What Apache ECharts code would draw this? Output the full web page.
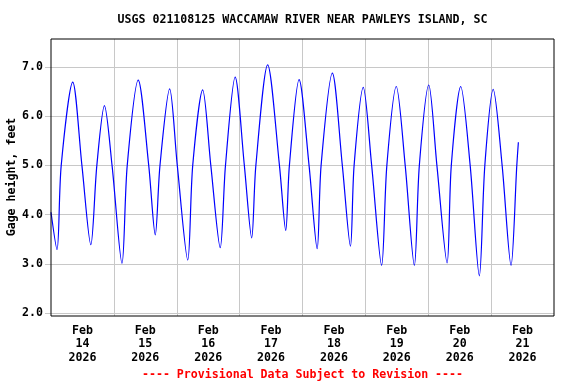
<!DOCTYPE html>
<html><head><meta charset="utf-8">
<script src="https://cdn.jsdelivr.net/npm/echarts@6/dist/echarts.min.js"></script>
<style>html,body{margin:0;padding:0;background:#fff}#c{width:576px;height:384px}</style>
</head><body><div id="c"></div>
<script>
// hours since Feb 14 2026 00:00
const hours = [0.0, 2.3, 3.9, 8.3, 11.8, 15.2, 17.5, 20.4, 23.3, 27.1, 29.1, 33.3, 37.3, 39.8, 41.6, 45.3,
  48.2, 52.2, 54.1, 57.9, 61.0, 64.6, 66.6, 70.3, 73.8, 76.6, 78.2, 82.7, 87.2, 89.6, 91.0, 94.7,
  98.5, 101.6, 103.1, 107.4, 111.2, 114.3, 115.7, 119.2, 122.4, 126.2, 128.2, 131.8, 135.2, 138.7,
  140.6, 144.2, 147.3, 151.2, 152.8, 156.4, 160.0, 163.5, 165.6, 168.8, 172.2, 175.6, 177.8, 178.4];
const gageHeight = [4.05, 3.29, 5.0, 6.69, 5.0, 3.39, 5.0, 6.21, 5.0, 3.01, 5.0, 6.73, 5.0, 3.59, 5.0, 6.55,
  5.0, 3.08, 5.0, 6.53, 5.0, 3.33, 5.0, 6.79, 5.0, 3.53, 5.0, 7.04, 5.0, 3.68, 5.0, 6.74,
  5.0, 3.31, 5.0, 6.87, 5.0, 3.36, 5.0, 6.58, 5.0, 2.97, 5.0, 6.60, 5.0, 2.97,
  5.0, 6.63, 5.0, 3.02, 5.0, 6.60, 5.0, 2.76, 5.0, 6.54, 5.0, 2.97, 5.0, 5.47];
const yTicks = [2, 3, 4, 5, 6, 7];
const dayBoundaryHours = [24, 48, 72, 96, 120, 144, 168];
const labelHours = [12, 36, 60, 84, 108, 132, 156, 180];
const dayLabels = ['Feb\n14\n2026', 'Feb\n15\n2026', 'Feb\n16\n2026', 'Feb\n17\n2026',
  'Feb\n18\n2026', 'Feb\n19\n2026', 'Feb\n20\n2026', 'Feb\n21\n2026'];
const titleText = 'USGS 021108125 WACCAMAW RIVER NEAR PAWLEYS ISLAND, SC';
const yAxisTitle = 'Gage height, feet';
const footerText = '---- Provisional Data Subject to Revision ----';

const FONT = '"DejaVu Sans Mono", "Liberation Mono", monospace';
const chart = echarts.init(document.getElementById('c'), null, {renderer: 'canvas'});
chart.setOption({
  animation: false,
  backgroundColor: '#fff',
  graphic: [
    {type: 'text', x: 302.5, y: 20, style: {text: titleText, fontFamily: FONT, fontSize: 11.6, fontWeight: 'bold', fill: '#000', align: 'center', verticalAlign: 'middle'}},
    {type: 'text', x: 12, y: 177, rotation: Math.PI / 2, style: {text: yAxisTitle, fontFamily: FONT, fontSize: 11.6, fontWeight: 'bold', fill: '#000', align: 'center', verticalAlign: 'middle'}},
    {type: 'text', x: 302.5, y: 375, style: {text: footerText, fontFamily: FONT, fontSize: 11.6, fontWeight: 'bold', fill: '#ff0000', align: 'center', verticalAlign: 'middle'}}
  ],
  grid: {left: 51, right: 22, top: 39, bottom: 68, outerBoundsMode: 'none', containLabel: false,
    show: true, z: 10, backgroundColor: 'transparent', borderColor: '#000', borderWidth: 1},
  xAxis: {
    type: 'value', min: 0, max: 192,
    axisLine: {show: false},
    axisTick: {show: false, customValues: dayBoundaryHours},
    splitLine: {show: true, lineStyle: {color: '#c8c8c8', width: 1}},
    axisLabel: {
      customValues: labelHours,
      formatter: v => dayLabels[labelHours.indexOf(v)] || '',
      fontFamily: FONT, fontSize: 11.6, fontWeight: 'bold', color: '#000', lineHeight: 13.5, margin: 8
    }
  },
  yAxis: {
    type: 'value', min: 1.945, max: 7.563,
    axisLine: {show: false},
    axisTick: {show: true, length: 6, customValues: yTicks, lineStyle: {color: '#c8c8c8'}},
    splitLine: {show: true, lineStyle: {color: '#c8c8c8', width: 1}},
    axisLabel: {customValues: yTicks, formatter: v => v.toFixed(1), fontFamily: FONT, fontSize: 11.6, fontWeight: 'bold', color: '#000', margin: 8}
  },
  series: [{
    type: 'line',
    data: hours.map((h, i) => [h, gageHeight[i]]),
    showSymbol: false,
    smooth: 0.3,
    lineStyle: {color: '#0000ff', width: 1.2},
    clip: true
  }]
});
</script></body></html>
